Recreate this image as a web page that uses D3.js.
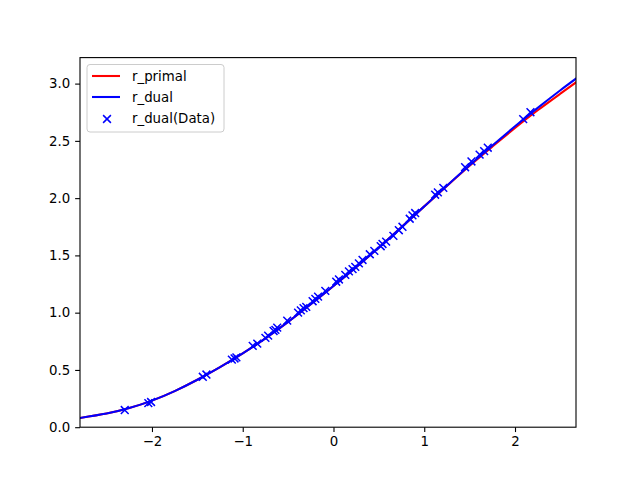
<!DOCTYPE html>
<html>
<head>
<meta charset="utf-8">
<script src="https://cdn.jsdelivr.net/npm/d3@7"></script>
<style>
  html, body { margin: 0; padding: 0; background: #fff; }
  svg { display: block; font-family: "DejaVu Sans", sans-serif; }
</style>
</head>
<body>
<svg id="chart" width="640" height="480"></svg>
<script>
// ---- data ----
const curveX  = [-2.8, -2.5, -2.25, -2.0, -1.75, -1.5, -1.25, -1.0, -0.75, -0.5, -0.25, 0.0, 0.25, 0.5, 0.75, 1.0, 1.25, 1.5, 1.75, 2.0, 2.25, 2.5, 2.68];
const primalY = [0.08, 0.119, 0.167, 0.232, 0.315, 0.414, 0.524, 0.644, 0.775, 0.919, 1.073, 1.233, 1.398, 1.569, 1.747, 1.928, 2.107, 2.283, 2.450, 2.612, 2.767, 2.912, 3.015];
const dualY   = [0.08, 0.119, 0.167, 0.232, 0.315, 0.414, 0.524, 0.644, 0.775, 0.919, 1.073, 1.233, 1.398, 1.569, 1.747, 1.928, 2.109, 2.287, 2.459, 2.627, 2.788, 2.942, 3.048];
const dataX = [-2.30, -2.04, -2.01, -1.44, -1.40, -1.12, -1.09, -1.07, -0.89, -0.84, -0.75, -0.72, -0.66, -0.64, -0.62, -0.51, -0.39, -0.36, -0.33, -0.30, -0.23, -0.20, -0.17, -0.09, 0.03, 0.06, 0.13, 0.17, 0.21, 0.24, 0.28, 0.32, 0.40, 0.45, 0.52, 0.54, 0.58, 0.66, 0.72, 0.76, 0.84, 0.87, 0.90, 1.12, 1.15, 1.21, 1.45, 1.52, 1.61, 1.66, 1.70, 2.09, 2.17];
const dataY = [0.15, 0.21, 0.22, 0.44, 0.46, 0.59, 0.60, 0.61, 0.71, 0.73, 0.78, 0.80, 0.84, 0.85, 0.87, 0.93, 1.00, 1.02, 1.04, 1.05, 1.10, 1.12, 1.14, 1.19, 1.27, 1.29, 1.33, 1.36, 1.38, 1.40, 1.43, 1.46, 1.51, 1.54, 1.58, 1.60, 1.62, 1.67, 1.72, 1.75, 1.82, 1.85, 1.87, 2.03, 2.05, 2.09, 2.27, 2.32, 2.38, 2.41, 2.44, 2.69, 2.75];
const xTicks = [-2, -1, 0, 1, 2];
const yTicks = [0.0, 0.5, 1.0, 1.5, 2.0, 2.5, 3.0];
const legendLabels = ["r_primal", "r_dual", "r_dual(Data)"];

// ---- layout ----
const svg = d3.select("#chart");
const L = 80, T = 57.6, W = 496, H = 369.6;
const x = d3.scaleLinear().domain([-2.793, 2.672]).range([L, L + W]);
const y = d3.scaleLinear().domain([0, 3.227]).range([T + H, T]);

svg.append("clipPath").attr("id", "clip")
  .append("rect").attr("x", L).attr("y", T).attr("width", W).attr("height", H);

const plot = svg.append("g").attr("clip-path", "url(#clip)");

const line = d3.line().x(d => x(d[0])).y(d => y(d[1])).curve(d3.curveNatural);

plot.append("path").datum(curveX.map((v, i) => [v, primalY[i]]))
  .attr("d", line).attr("fill", "none").attr("stroke", "#ff0000").attr("stroke-width", 2.08);
plot.append("path").datum(curveX.map((v, i) => [v, dualY[i]]))
  .attr("d", line).attr("fill", "none").attr("stroke", "#0000ff").attr("stroke-width", 2.08);

const m = 3.9;
const marks = plot.append("g").attr("stroke", "#0000ff").attr("stroke-width", 1.5);
dataX.forEach((v, i) => {
  const cx = x(v), cy = y(dataY[i]);
  marks.append("path").attr("d", `M${cx - m},${cy - m}L${cx + m},${cy + m}M${cx - m},${cy + m}L${cx + m},${cy - m}`);
});

// axes
const fmtMinus = s => String(s).replace("-", "\u2212");
const xAxis = d3.axisBottom(x).tickValues(xTicks).tickSize(4.86).tickPadding(4.9)
  .tickFormat(d => fmtMinus(d3.format("d")(d)));
const yAxis = d3.axisLeft(y).tickValues(yTicks).tickSize(4.86).tickPadding(4.9)
  .tickFormat(d3.format(".1f"));

const gx = svg.append("g").attr("transform", `translate(0,${T + H})`).call(xAxis);
const gy = svg.append("g").attr("transform", `translate(${L},0)`).call(yAxis);
[gx, gy].forEach(g => {
  g.select(".domain").remove();
  g.selectAll(".tick line").attr("stroke", "#000").attr("stroke-width", 1.1);
  g.selectAll(".tick text").attr("fill", "#000").attr("font-size", "13.33px")
    .attr("font-family", "DejaVu Sans, sans-serif");
});

svg.append("rect").attr("x", L).attr("y", T).attr("width", W).attr("height", H)
  .attr("fill", "none").attr("stroke", "#000").attr("stroke-width", 1.1);

// legend
const lg = svg.append("g");
lg.append("rect").attr("x", 87).attr("y", 64.5).attr("width", 137).attr("height", 67.5)
  .attr("rx", 3).attr("fill", "#fff").attr("fill-opacity", 0.8)
  .attr("stroke", "#cccccc").attr("stroke-width", 1);
const rows = [76, 97, 118];
lg.append("line").attr("x1", 92).attr("x2", 120).attr("y1", rows[0]).attr("y2", rows[0])
  .attr("stroke", "#ff0000").attr("stroke-width", 2.08);
lg.append("line").attr("x1", 92).attr("x2", 120).attr("y1", rows[1]).attr("y2", rows[1])
  .attr("stroke", "#0000ff").attr("stroke-width", 2.08);
const lx = 107, ly = rows[2] + 1;
lg.append("path").attr("d", `M${lx - m},${ly - m}L${lx + m},${ly + m}M${lx - m},${ly + m}L${lx + m},${ly - m}`)
  .attr("stroke", "#0000ff").attr("stroke-width", 1.5);
legendLabels.forEach((t, i) => {
  lg.append("text").attr("x", 132).attr("y", rows[i]).attr("dy", "0.35em")
    .attr("font-size", "13.33px").attr("fill", "#000").text(t);
});
</script>
</body>
</html>
